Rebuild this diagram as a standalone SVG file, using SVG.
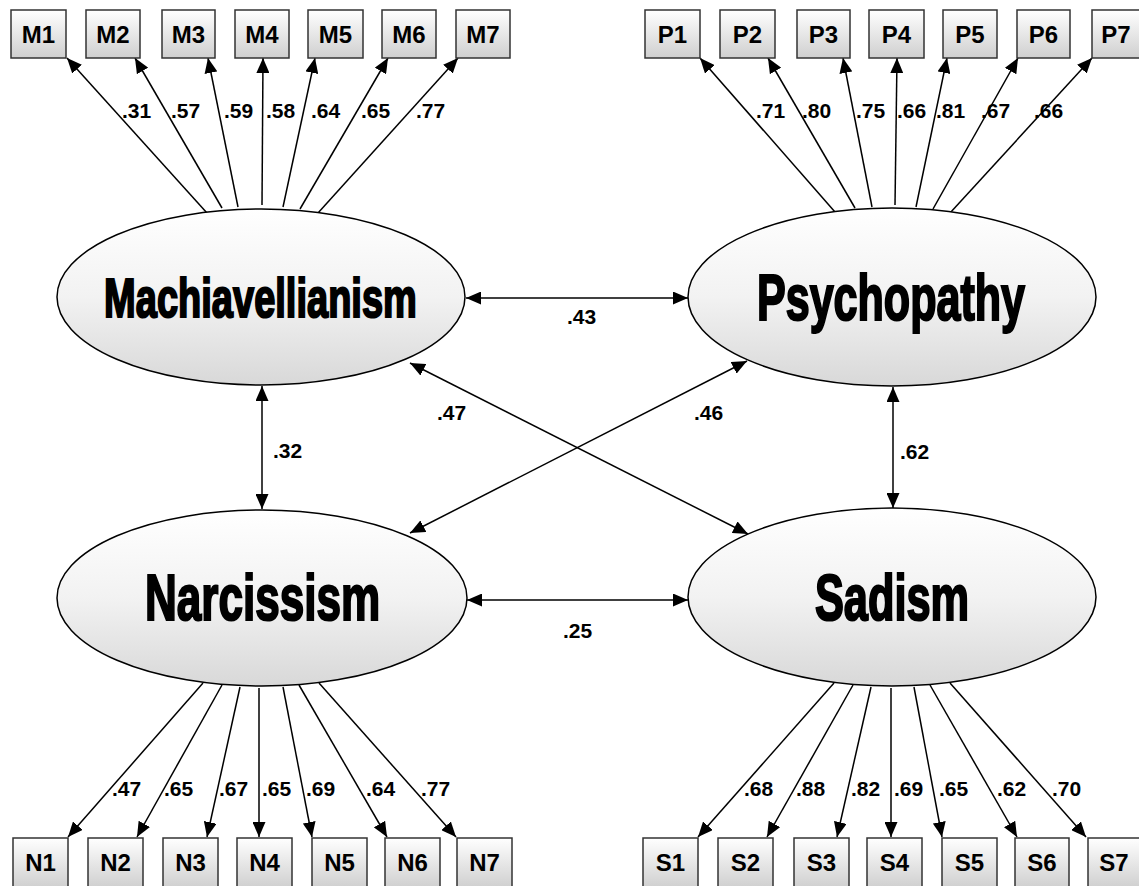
<svg xmlns="http://www.w3.org/2000/svg" width="1139" height="886" viewBox="0 0 1139 886">
<defs>
<linearGradient id="gEll" x1="0" y1="0" x2="0" y2="1">
<stop offset="0" stop-color="#ffffff"/>
<stop offset="0.5" stop-color="#f2f2f2"/>
<stop offset="1" stop-color="#d8d8d8"/>
</linearGradient>
<linearGradient id="gBox" x1="0" y1="0" x2="0" y2="1">
<stop offset="0" stop-color="#ffffff"/>
<stop offset="1" stop-color="#cfcfcf"/>
</linearGradient>
<marker id="ah" markerUnits="userSpaceOnUse" markerWidth="16" markerHeight="13" refX="15" refY="6.5" orient="auto-start-reverse">
<path d="M0,0 L15,6.5 L0,13 z" fill="#000"/>
</marker>
</defs>
<style>
.box{fill:url(#gBox);stroke:#333;stroke-width:1.5}
.ell{fill:url(#gEll);stroke:#000;stroke-width:1.5}
.bl{font-family:"Liberation Sans",Arial,sans-serif;font-weight:bold;font-size:24px;text-anchor:middle;fill:#000}
.big{font-family:"Liberation Sans",Arial,sans-serif;font-weight:bold;text-anchor:middle;fill:#000;stroke:#000;stroke-width:2.2}
.num{font-family:"Liberation Sans",Arial,sans-serif;font-weight:bold;font-size:21px;fill:#000}
.ln{stroke:#000;stroke-width:1.5;fill:none;marker-end:url(#ah)}
.dl{stroke:#000;stroke-width:1.5;fill:none;marker-end:url(#ah);marker-start:url(#ah)}
</style>

<g id="connectors">
<line class="ln" x1="207" y1="213" x2="67" y2="58"/>
<line class="ln" x1="222" y1="208" x2="135" y2="58"/>
<line class="ln" x1="238" y1="207" x2="208" y2="58"/>
<line class="ln" x1="262" y1="205" x2="263" y2="58"/>
<line class="ln" x1="283" y1="207" x2="315" y2="58"/>
<line class="ln" x1="300" y1="209" x2="388" y2="58"/>
<line class="ln" x1="318" y1="213" x2="458" y2="58"/>
<line class="ln" x1="835" y1="212" x2="700" y2="58"/>
<line class="ln" x1="855" y1="208" x2="768" y2="58"/>
<line class="ln" x1="872" y1="207" x2="843" y2="58"/>
<line class="ln" x1="895" y1="205" x2="897" y2="58"/>
<line class="ln" x1="916" y1="207" x2="947" y2="58"/>
<line class="ln" x1="933" y1="209" x2="1018" y2="58"/>
<line class="ln" x1="950" y1="213" x2="1092" y2="58"/>
<line class="ln" x1="203" y1="683" x2="68" y2="837"/>
<line class="ln" x1="222" y1="685" x2="137" y2="837"/>
<line class="ln" x1="240" y1="687" x2="207" y2="837"/>
<line class="ln" x1="259" y1="688" x2="259" y2="837"/>
<line class="ln" x1="283" y1="687" x2="312" y2="837"/>
<line class="ln" x1="299" y1="685" x2="387" y2="837"/>
<line class="ln" x1="319" y1="683" x2="456" y2="837"/>
<line class="ln" x1="834" y1="683" x2="698" y2="837"/>
<line class="ln" x1="853" y1="685" x2="767" y2="837"/>
<line class="ln" x1="871" y1="687" x2="837" y2="837"/>
<line class="ln" x1="891" y1="688" x2="891" y2="837"/>
<line class="ln" x1="914" y1="687" x2="942" y2="837"/>
<line class="ln" x1="930" y1="685" x2="1017" y2="837"/>
<line class="ln" x1="950" y1="683" x2="1086" y2="837"/>
<line class="dl" x1="466" y1="298" x2="688" y2="298"/>
<line class="dl" x1="467" y1="600" x2="688" y2="600"/>
<line class="dl" x1="262" y1="386" x2="262" y2="509"/>
<line class="dl" x1="893" y1="387" x2="893" y2="508"/>
<line class="dl" x1="410" y1="363" x2="748" y2="534"/>
<line class="dl" x1="747" y1="361" x2="410" y2="533"/>
</g>

<g id="labels">
<text class="num" x="122" y="118">.31</text>
<text class="num" x="171" y="118">.57</text>
<text class="num" x="224" y="118">.59</text>
<text class="num" x="266" y="118">.58</text>
<text class="num" x="311" y="118">.64</text>
<text class="num" x="361" y="118">.65</text>
<text class="num" x="416" y="118">.77</text>
<text class="num" x="756" y="118">.71</text>
<text class="num" x="802" y="118">.80</text>
<text class="num" x="856" y="118">.75</text>
<text class="num" x="897" y="118">.66</text>
<text class="num" x="936" y="118">.81</text>
<text class="num" x="981" y="118">.67</text>
<text class="num" x="1034" y="118">.66</text>
<text class="num" x="112" y="796">.47</text>
<text class="num" x="164" y="796">.65</text>
<text class="num" x="219" y="796">.67</text>
<text class="num" x="262" y="796">.65</text>
<text class="num" x="306" y="796">.69</text>
<text class="num" x="366" y="796">.64</text>
<text class="num" x="421" y="796">.77</text>
<text class="num" x="744" y="796">.68</text>
<text class="num" x="796" y="796">.88</text>
<text class="num" x="851" y="796">.82</text>
<text class="num" x="894" y="796">.69</text>
<text class="num" x="939" y="796">.65</text>
<text class="num" x="997" y="796">.62</text>
<text class="num" x="1052" y="796">.70</text>
<text class="num" x="567" y="324">.43</text>
<text class="num" x="563" y="638">.25</text>
<text class="num" x="273" y="458">.32</text>
<text class="num" x="900" y="459">.62</text>
<text class="num" x="437" y="420">.47</text>
<text class="num" x="694" y="420">.46</text>
</g>

<g id="Machiavellianism">
<ellipse class="ell" cx="261" cy="297" rx="204" ry="88"/>
<text class="big" font-size="56" transform="translate(260.5,317) scale(0.679,1)">Machiavellianism</text>
</g>
<g id="Psychopathy">
<ellipse class="ell" cx="892" cy="297" rx="204" ry="89"/>
<text class="big" font-size="64" transform="translate(891,320) scale(0.673,1)">Psychopathy</text>
</g>
<g id="Narcissism">
<ellipse class="ell" cx="262" cy="598" rx="205" ry="88"/>
<text class="big" font-size="65" transform="translate(262.5,620) scale(0.678,1)">Narcissism</text>
</g>
<g id="Sadism">
<ellipse class="ell" cx="892" cy="597" rx="204" ry="89"/>
<text class="big" font-size="65" transform="translate(892,620) scale(0.667,1)">Sadism</text>
</g>

<g id="M1"><rect class="box" x="11" y="10" width="55" height="48"/><text class="bl" x="38.5" y="43">M1</text></g>
<g id="M2"><rect class="box" x="86" y="10" width="54" height="48"/><text class="bl" x="113" y="43">M2</text></g>
<g id="M3"><rect class="box" x="162" y="10" width="53" height="48"/><text class="bl" x="188.5" y="43">M3</text></g>
<g id="M4"><rect class="box" x="235" y="10" width="54" height="48"/><text class="bl" x="262" y="43">M4</text></g>
<g id="M5"><rect class="box" x="308" y="10" width="55" height="48"/><text class="bl" x="335.5" y="43">M5</text></g>
<g id="M6"><rect class="box" x="382" y="10" width="54" height="48"/><text class="bl" x="409" y="43">M6</text></g>
<g id="M7"><rect class="box" x="456" y="10" width="54" height="48"/><text class="bl" x="483" y="43">M7</text></g>

<g id="P1"><rect class="box" x="645" y="10" width="55" height="48"/><text class="bl" x="672.5" y="43">P1</text></g>
<g id="P2"><rect class="box" x="720" y="10" width="55" height="48"/><text class="bl" x="747.5" y="43">P2</text></g>
<g id="P3"><rect class="box" x="797" y="10" width="53" height="48"/><text class="bl" x="823.5" y="43">P3</text></g>
<g id="P4"><rect class="box" x="869" y="10" width="55" height="48"/><text class="bl" x="896.5" y="43">P4</text></g>
<g id="P5"><rect class="box" x="943" y="10" width="54" height="48"/><text class="bl" x="970" y="43">P5</text></g>
<g id="P6"><rect class="box" x="1017" y="10" width="53" height="48"/><text class="bl" x="1043.5" y="43">P6</text></g>
<g id="P7"><rect class="box" x="1092" y="10" width="54" height="48"/><text class="bl" x="1116" y="43">P7</text></g>

<g id="N1"><rect class="box" x="13" y="838" width="55" height="50"/><text class="bl" x="40.5" y="871">N1</text></g>
<g id="N2"><rect class="box" x="88" y="838" width="55" height="50"/><text class="bl" x="115.5" y="871">N2</text></g>
<g id="N3"><rect class="box" x="163" y="838" width="55" height="50"/><text class="bl" x="190.5" y="871">N3</text></g>
<g id="N4"><rect class="box" x="237" y="838" width="55" height="50"/><text class="bl" x="264.5" y="871">N4</text></g>
<g id="N5"><rect class="box" x="312" y="838" width="55" height="50"/><text class="bl" x="339.5" y="871">N5</text></g>
<g id="N6"><rect class="box" x="385" y="838" width="55" height="50"/><text class="bl" x="412.5" y="871">N6</text></g>
<g id="N7"><rect class="box" x="457" y="838" width="55" height="50"/><text class="bl" x="484.5" y="871">N7</text></g>

<g id="S1"><rect class="box" x="643" y="838" width="55" height="50"/><text class="bl" x="670.5" y="871">S1</text></g>
<g id="S2"><rect class="box" x="718" y="838" width="55" height="50"/><text class="bl" x="745.5" y="871">S2</text></g>
<g id="S3"><rect class="box" x="794" y="838" width="55" height="50"/><text class="bl" x="821.5" y="871">S3</text></g>
<g id="S4"><rect class="box" x="867" y="838" width="55" height="50"/><text class="bl" x="894.5" y="871">S4</text></g>
<g id="S5"><rect class="box" x="942" y="838" width="55" height="50"/><text class="bl" x="969.5" y="871">S5</text></g>
<g id="S6"><rect class="box" x="1015" y="838" width="54" height="50"/><text class="bl" x="1042" y="871">S6</text></g>
<g id="S7"><rect class="box" x="1088" y="838" width="56" height="50"/><text class="bl" x="1114" y="871">S7</text></g>
</svg>
